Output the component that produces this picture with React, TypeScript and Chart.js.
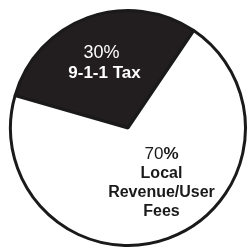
import React, { useEffect, useRef } from "react";
import { Chart, registerables } from "chart.js";

Chart.register(...registerables);

const categories: string[] = ["9-1-1 Tax", "Local Revenue/User Fees"];
const shares: number[] = [30, 70];
const percentLabels: string[] = ["30%", "70%"];
const nameLines: string[][] = [["9-1-1 Tax"], ["Local", "Revenue/User", "Fees"]];
const sliceColors: string[] = ["#221e1f", "#ffffff"];

const FONT = '"Liberation Sans", Arial, Helvetica, sans-serif';

const labelPlugin = {
  id: "sliceLabels",
  afterDraw(chart: any) {
    const meta = chart.getDatasetMeta(0);
    const ctx = chart.ctx as CanvasRenderingContext2D;
    const arc0 = meta.data[0];
    const cx = arc0.x;
    const cy = arc0.y;
    const R = arc0.outerRadius;
    ctx.save();
    ctx.textAlign = "center";
    ctx.textBaseline = "middle";

    // black slice label (white text)
    {
      const gx = cx - 0.2 * R;
      const gy = cy - 0.55 * R;
      ctx.fillStyle = "#ffffff";
      ctx.font = `normal 18px ${FONT}`;
      ctx.fillText(percentLabels[0], gx - 3, gy - 10);
      ctx.font = `bold 17px ${FONT}`;
      nameLines[0].forEach((t, i) => ctx.fillText(t, gx, gy + 10 + i * 19));
    }

    // white slice label (black text)
    {
      const gx = cx + 0.285 * R;
      const gy = cy + 0.465 * R;
      const lines = nameLines[1];
      const total = lines.length + 1;
      const top = gy - ((total - 1) * 19) / 2;
      ctx.fillStyle = "#1a1a1a";
      // percent: number regular, % sign bold
      const pct = percentLabels[1];
      const num = pct.replace("%", "");
      ctx.font = `normal 17px ${FONT}`;
      const wNum = ctx.measureText(num).width;
      ctx.font = `bold 17px ${FONT}`;
      const wPct = ctx.measureText("%").width;
      const startX = gx - (wNum + wPct) / 2;
      ctx.textAlign = "left";
      ctx.font = `normal 17px ${FONT}`;
      ctx.fillText(num, startX, top);
      ctx.font = `bold 17px ${FONT}`;
      ctx.fillText("%", startX + wNum, top);
      ctx.textAlign = "center";
      ctx.font = `bold 16px ${FONT}`;
      lines.forEach((t, i) => ctx.fillText(t, gx, top + (i + 1) * 19));
    }
    ctx.restore();
  },
};

export default function App() {
  const ref = useRef<HTMLCanvasElement | null>(null);

  useEffect(() => {
    if (!ref.current) return;
    const chart = new Chart(ref.current, {
      type: "pie",
      data: {
        labels: categories,
        datasets: [
          {
            data: shares,
            backgroundColor: sliceColors,
            borderColor: "#1a1a1a",
            borderWidth: 3,
            hoverOffset: 0,
          },
        ],
      },
      options: {
        responsive: false,
        animation: false,
        rotation: -74,
        layout: { padding: { left: 9, top: 9, right: 2, bottom: 4 } },
        plugins: {
          legend: { display: false },
          tooltip: { enabled: false },
          title: { display: false },
        },
        events: [],
      },
      plugins: [labelPlugin],
    });
    return () => chart.destroy();
  }, []);

  return (
    <div style={{ position: "fixed", left: 0, top: 0, width: 249, height: 251, background: "#ffffff" }}>
      <canvas ref={ref} width={249} height={251} />
    </div>
  );
}
